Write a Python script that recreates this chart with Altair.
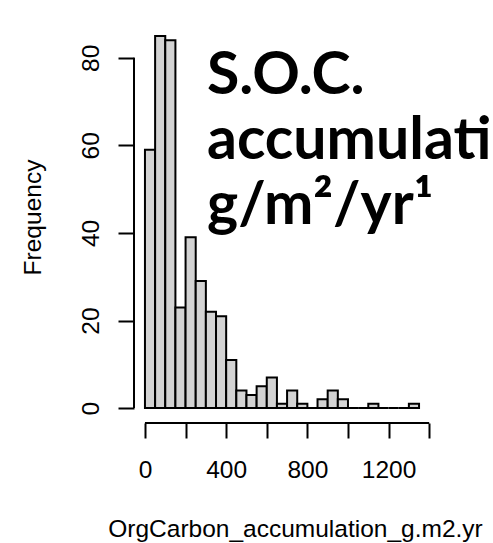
import altair as alt
import pandas as pd

# Histogram bins (g/m2/yr) and counts
bin_start = [0, 50, 100, 150, 200, 250, 300, 350, 400, 450, 500, 550, 600, 650,
             700, 750, 800, 850, 900, 950, 1000, 1050, 1100, 1150, 1200, 1250, 1300]
bin_end = [s + 50 for s in bin_start]
counts = [59, 85, 84, 23, 39, 29, 22, 21, 11, 4, 3, 5, 7, 1,
          4, 1, 0, 2, 4, 2, 0, 0, 1, 0, 0, 0, 1]

x_ticks = [0, 200, 400, 600, 800, 1000, 1200, 1400]
y_ticks = [0, 20, 40, 60, 80]
overlay_lines = ["S.O.C.", "accumulati", "g/m²/yr¹"]

df = pd.DataFrame({"start": bin_start, "end": bin_end, "count": counts})
one = pd.DataFrame({"k": [0]})

W, H = 296, 402
FONT = "Liberation Sans"
FS = 24.5

xscale = alt.Scale(domain=[-54, 1404], nice=False, zero=False)
yscale = alt.Scale(domain=[-3.4, 88.4], nice=False, zero=False)

bars = alt.Chart(df).mark_rect(
    fill="#d3d3d3", stroke="black", strokeWidth=2
).encode(
    x=alt.X("start:Q", scale=xscale, axis=alt.Axis(
        values=x_ticks, domain=False, grid=False,
        tickSize=15, tickWidth=2, tickColor="black",
        labelExpr="(datum.value % 400 == 0 && datum.value < 1400) ? datum.label : ''",
        labelFont=FONT, labelFontSize=FS, labelColor="black",
        labelBaseline="alphabetic", labelPadding=39, labelFlush=False,
        labelOverlap=False, format="d",
        title="OrgCarbon_accumulation_g.m2.yr", titleFont=FONT,
        titleFontSize=FS, titleFontWeight="normal", titleColor="black",
        titleX=161, titleY=113, titleAlign="center", titleBaseline="alphabetic",
    )),
    x2="end:Q",
    y=alt.Y("count:Q", scale=yscale, axis=alt.Axis(
        values=y_ticks, domain=False, grid=False,
        tickSize=16, tickWidth=2, tickColor="black",
        labelFont=FONT, labelFontSize=FS, labelColor="black",
        labelAngle=270, labelAlign="center", labelBaseline="alphabetic",
        labelPadding=19.7, labelOverlap=False, labelFlush=False,
        title="Frequency", titleFont=FONT, titleFontSize=FS,
        titleFontWeight="normal", titleColor="black",
        titleAngle=270, titleX=-93.3, titleY=196, titleAlign="center",
        titleBaseline="alphabetic",
    )),
    y2=alt.datum(0),
)

yaxis_line = alt.Chart(one).mark_rule(color="black", strokeWidth=2).encode(
    x=alt.value(0), y=alt.datum(y_ticks[0]), y2=alt.datum(y_ticks[-1])
)
xaxis_line = alt.Chart(one).mark_rule(color="black", strokeWidth=2).encode(
    y=alt.value(H), x=alt.datum(x_ticks[0]), x2=alt.datum(x_ticks[-1])
)

overlay = alt.Chart(one).mark_text(
    text=overlay_lines, font="Lato", fontWeight="bold", fontSize=59,
    color="black", align="left", baseline="alphabetic", lineHeight=65
).encode(x=alt.value(73), y=alt.value(73))

chart = alt.layer(bars, yaxis_line, xaxis_line, overlay).properties(
    width=W, height=H,
    background="white",
    autosize=alt.AutoSizeParams(type="none"),
    padding={"left": 134, "top": 21, "right": 63, "bottom": 120},
).configure_view(strokeWidth=0, stroke="transparent")

chart.save("out.html", embed_options={"renderer": "svg", "actions": False})
